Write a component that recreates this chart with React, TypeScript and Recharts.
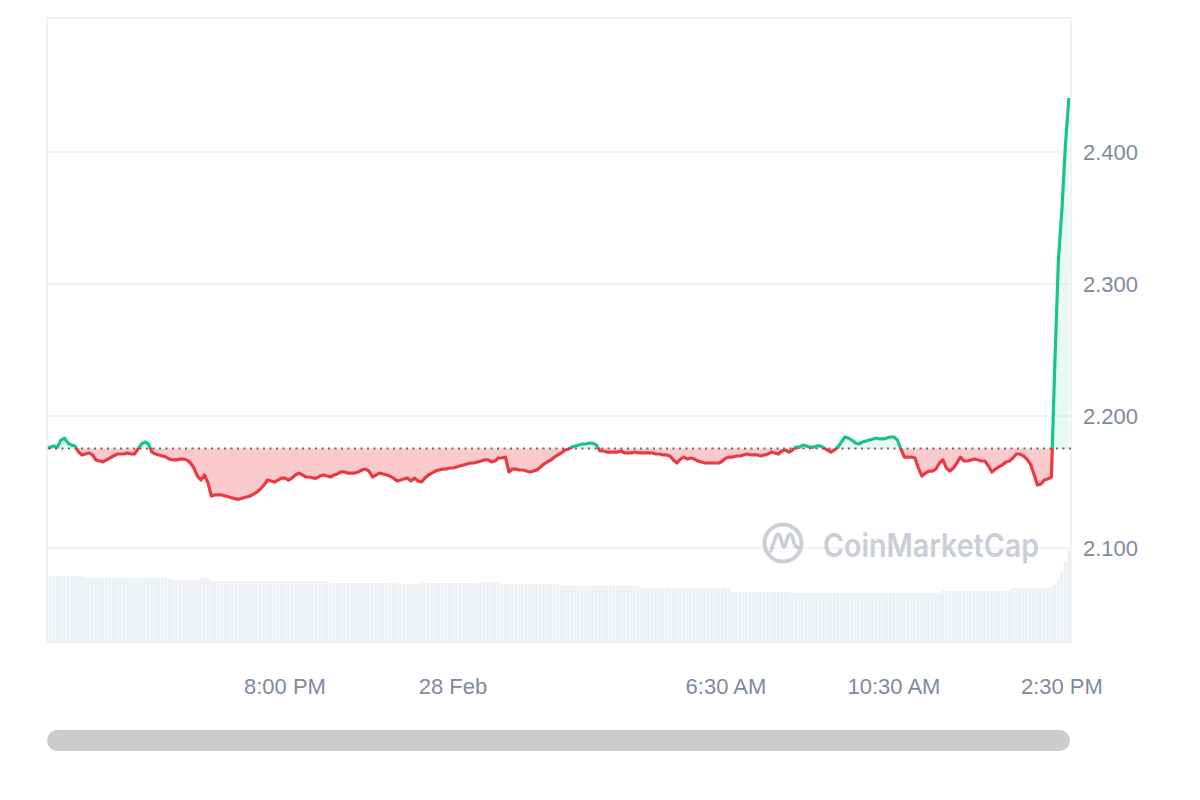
import React from 'react';
import {
  ComposedChart,
  Area,
  Bar,
  XAxis,
  YAxis,
  CartesianGrid,
  ReferenceLine,
  ReferenceArea,
} from 'recharts';

// minutes between samples (start of window = 0)
const STEP_MINUTES = 5;

const prices = [
  2.1758, 2.1765, 2.1773, 2.1765, 2.1818, 2.1833, 2.1795, 2.178, 2.1773, 2.1727,
  2.1705, 2.1712, 2.172, 2.1705, 2.1667, 2.1659, 2.1652, 2.1667, 2.1682, 2.1697,
  2.1712, 2.1712, 2.1712, 2.172, 2.1712, 2.1712, 2.175, 2.1788, 2.1803, 2.1788,
  2.1727, 2.1712, 2.1705, 2.1697, 2.1689, 2.1674, 2.1667, 2.1667, 2.1674, 2.1674,
  2.1667, 2.1644, 2.1606, 2.1545, 2.1515, 2.1553, 2.1492, 2.1394, 2.1402, 2.1402,
  2.1402, 2.1394, 2.1386, 2.1379, 2.1371, 2.1371, 2.1379, 2.1386, 2.1394, 2.1409,
  2.1424, 2.1447, 2.1477, 2.1515, 2.1508, 2.15, 2.1515, 2.153, 2.153, 2.1515,
  2.153, 2.1553, 2.1568, 2.1553, 2.1538, 2.1538, 2.153, 2.153, 2.1545, 2.1553,
  2.1545, 2.1538, 2.1553, 2.1561, 2.1576, 2.1576, 2.1568, 2.1568, 2.1568, 2.1576,
  2.1591, 2.1598, 2.1583, 2.1538, 2.1553, 2.1568, 2.1561, 2.1553, 2.1545, 2.153,
  2.1508, 2.1515, 2.1523, 2.153, 2.1508, 2.153, 2.1508, 2.15, 2.153, 2.1553,
  2.1568, 2.1583, 2.1591, 2.1598, 2.1598, 2.1606, 2.1606, 2.1614, 2.1621, 2.1629,
  2.1636, 2.1644, 2.1644, 2.1652, 2.1659, 2.1667, 2.1667, 2.1652, 2.1659, 2.1682,
  2.1682, 2.1689, 2.1576, 2.1598, 2.1598, 2.1591, 2.1591, 2.1583, 2.1576, 2.1583,
  2.1591, 2.1614, 2.1636, 2.1652, 2.1667, 2.1689, 2.1705, 2.172, 2.1742, 2.175,
  2.1765, 2.1773, 2.178, 2.1788, 2.1788, 2.1795, 2.1795, 2.178, 2.1735, 2.1735,
  2.1727, 2.1727, 2.1727, 2.1727, 2.1735, 2.172, 2.172, 2.172, 2.1727, 2.172,
  2.172, 2.172, 2.172, 2.172, 2.1712, 2.1712, 2.1705, 2.1705, 2.1697, 2.1667,
  2.1644, 2.1674, 2.1689, 2.1674, 2.1682, 2.1674, 2.1659, 2.1652, 2.1644, 2.1644,
  2.1644, 2.1644, 2.1644, 2.1659, 2.1682, 2.1689, 2.1689, 2.1697, 2.1697, 2.1705,
  2.1712, 2.1705, 2.1705, 2.1705, 2.1697, 2.1705, 2.1712, 2.1727, 2.172, 2.1712,
  2.1735, 2.1742, 2.1727, 2.1742, 2.1765, 2.1765, 2.178, 2.1773, 2.1765, 2.1765,
  2.1773, 2.1773, 2.1758, 2.1742, 2.1727, 2.1742, 2.1765, 2.1803, 2.1841, 2.1833,
  2.1818, 2.1795, 2.1788, 2.1803, 2.1811, 2.1818, 2.1826, 2.1833, 2.1826, 2.1826,
  2.1833, 2.1841, 2.1841, 2.1818, 2.175, 2.1689, 2.1689, 2.1689, 2.1682, 2.1606,
  2.1545, 2.1568, 2.1583, 2.1583, 2.1598, 2.1644, 2.1667, 2.1606, 2.1583, 2.1606,
  2.1644, 2.1689, 2.1659, 2.1659, 2.1667, 2.1674, 2.1667, 2.1659, 2.1659, 2.1621,
  2.1576, 2.1598, 2.1614, 2.1629, 2.1652, 2.1659, 2.1682, 2.1712, 2.1712, 2.1697,
  2.1674, 2.1636, 2.1561, 2.1477, 2.1485, 2.1515, 2.1523, 2.1538, 2.2417, 2.3182,
  2.3561, 2.4053, 2.4409,
];

const volumes = [
  660, 662, 660, 661, 659, 660, 660, 658, 660, 659,
  655, 642, 640, 641, 640, 640, 639, 640, 641, 640,
  640, 640, 639, 640, 640, 641, 640, 640, 639, 640,
  640, 639, 640, 640, 640, 638, 622, 620, 620, 621,
  620, 620, 619, 620, 640, 641, 640, 612, 610, 610,
  610, 611, 610, 610, 609, 610, 610, 611, 610, 610,
  610, 610, 609, 610, 610, 610, 611, 610, 610, 610,
  609, 610, 610, 610, 611, 610, 610, 609, 610, 610,
  608, 592, 590, 590, 590, 591, 590, 590, 589, 590,
  590, 590, 590, 591, 590, 590, 590, 589, 590, 590,
  588, 580, 580, 580, 581, 580, 580, 590, 590, 590,
  591, 590, 590, 590, 589, 590, 590, 590, 590, 591,
  590, 590, 590, 592, 600, 602, 600, 600, 601, 600,
  582, 580, 580, 580, 581, 580, 580, 579, 580, 580,
  580, 580, 580, 581, 580, 580, 578, 562, 560, 560,
  560, 561, 560, 560, 560, 559, 560, 560, 560, 561,
  560, 560, 560, 560, 559, 560, 560, 560, 560, 558,
  542, 540, 540, 540, 541, 540, 540, 540, 539, 540,
  540, 540, 541, 540, 540, 540, 540, 539, 540, 540,
  540, 540, 540, 541, 540, 538, 502, 500, 500, 500,
  501, 500, 500, 500, 500, 499, 500, 500, 500, 501,
  500, 500, 498, 491, 490, 490, 490, 490, 491, 490,
  490, 490, 490, 489, 490, 490, 490, 490, 491, 490,
  490, 490, 490, 490, 490, 489, 490, 490, 490, 490,
  491, 490, 490, 490, 490, 490, 489, 490, 490, 490,
  490, 490, 490, 491, 490, 492, 510, 510, 510, 511,
  510, 510, 510, 509, 510, 510, 510, 510, 511, 510,
  510, 510, 510, 510, 510, 512, 540, 540, 540, 541,
  540, 540, 540, 540, 539, 540, 542, 550, 570, 620,
  700, 800, 920,
];

const tickMinutes = [340, 580, 970, 1210, 1450];
const tickLabels = ['8:00 PM', '28 Feb', '6:30 AM', '10:30 AM', '2:30 PM'];
const priceTicks = [2.1, 2.2, 2.3, 2.4];
const OPEN_PRICE = 2.1754;
const PRICE_DOMAIN: [number, number] = [2.0288, 2.5015];
const TIME_DOMAIN: [number, number] = [0, 1463];
const VOLUME_DOMAIN: [number, number] = [0, 6240];

const GREEN = '#16c784';
const RED = '#ea3943';
const AXIS_TEXT = '#808a9d';
const FONT = '"Liberation Sans", Arial, Helvetica, sans-serif';

const data = prices.map((p, i) => ({
  t: i * STEP_MINUTES,
  price: p,
  volume: volumes[i],
}));

const maxP = Math.max(...prices);
const minP = Math.min(...prices);
const splitOffset = (maxP - OPEN_PRICE) / (maxP - minP);

const labelFor = (v: number) => {
  const idx = tickMinutes.indexOf(v);
  return idx >= 0 ? tickLabels[idx] : '';
};

const Watermark = () => (
  <svg
    width={330}
    height={60}
    style={{ position: 'absolute', left: 745, top: 507, pointerEvents: 'none' }}
  >
    <circle cx={30} cy={28} r={18.5} fill="none" stroke="#c9ced7" strokeWidth={4} />
    <path
      d="M18 36 L23 21 Q25 17 27 21 L30 31 Q31 33 32 31 L35 21 Q37 17 39 21 L41 28 Q43 33 47 33"
      fill="none"
      stroke="#c9ced7"
      strokeWidth={3.5}
      strokeLinecap="round"
      strokeLinejoin="round"
    />
    <text
      x={70}
      y={42}
      fontFamily='Inter, "Noto Sans", sans-serif'
      fontWeight={600}
      fontSize={32}
      fill="#c9ced7"
      textLength={216}
      lengthAdjust="spacingAndGlyphs"
    >
      CoinMarketCap
    </text>
  </svg>
);

export default function App() {
  return (
    <div style={{ position: 'relative', width: 1184, fontFamily: FONT }}>
      <ComposedChart
        width={1184}
        height={694}
        data={data}
        margin={{ top: 10, right: 21, left: 39, bottom: 0 }}
      >
        <defs>
          <linearGradient id="strokeSplit" x1="0" y1="0" x2="0" y2="1">
            <stop offset={splitOffset} stopColor={GREEN} />
            <stop offset={splitOffset} stopColor={RED} />
          </linearGradient>
          <linearGradient id="fillSplit" x1="0" y1="0" x2="0" y2="1">
            <stop offset={splitOffset} stopColor={GREEN} stopOpacity={0.1} />
            <stop offset={splitOffset} stopColor={RED} stopOpacity={0.27} />
          </linearGradient>
        </defs>
        <CartesianGrid
          horizontal
          vertical={false}
          stroke="#eff1f4"
          strokeWidth={1.5}
          yAxisId="price"
        />
        <XAxis
          dataKey="t"
          type="number"
          domain={TIME_DOMAIN}
          ticks={tickMinutes}
          tickFormatter={labelFor}
          axisLine={false}
          tickLine={false}
          tickSize={0}
          tickMargin={36}
          height={60}
          interval={0}
          tick={{ fill: AXIS_TEXT, fontSize: 22, fontFamily: FONT }}
          allowDataOverflow
        />
        <YAxis
          yAxisId="price"
          orientation="right"
          type="number"
          domain={PRICE_DOMAIN}
          ticks={priceTicks}
          tickFormatter={(v: number) => v.toFixed(3)}
          axisLine={false}
          tickLine={false}
          tickSize={0}
          tickMargin={12}
          width={100}
          tick={{ fill: AXIS_TEXT, fontSize: 22, fontFamily: FONT, textAnchor: 'start' }}
          allowDataOverflow
        />
        <YAxis yAxisId="vol" hide domain={VOLUME_DOMAIN} type="number" allowDataOverflow />
        <Bar
          yAxisId="vol"
          dataKey="volume"
          fill="#edf0f4"
          barSize={3}
          isAnimationActive={false}
        />
        <Area
          yAxisId="price"
          type="linear"
          dataKey="price"
          baseValue={OPEN_PRICE}
          stroke="url(#strokeSplit)"
          strokeWidth={3.2}
          strokeLinejoin="round"
          fill="url(#fillSplit)"
          fillOpacity={1}
          dot={false}
          activeDot={false}
          isAnimationActive={false}
        />
        <ReferenceLine
          yAxisId="price"
          y={OPEN_PRICE}
          stroke="#6b6b6b"
          strokeWidth={2}
          strokeDasharray="2 4.5"
        />
        <ReferenceArea
          yAxisId="price"
          x1={TIME_DOMAIN[0]}
          x2={TIME_DOMAIN[1]}
          y1={PRICE_DOMAIN[0]}
          y2={PRICE_DOMAIN[1]}
          fill="none"
          fillOpacity={0}
          stroke="#eceef1"
          strokeWidth={1.5}
        />
      </ComposedChart>
      <Watermark />
      <div
        style={{
          marginTop: 28,
          marginLeft: 39,
          width: 1023,
          height: 21,
          borderRadius: 11,
          background: '#cccccc',
        }}
      />
    </div>
  );
}
